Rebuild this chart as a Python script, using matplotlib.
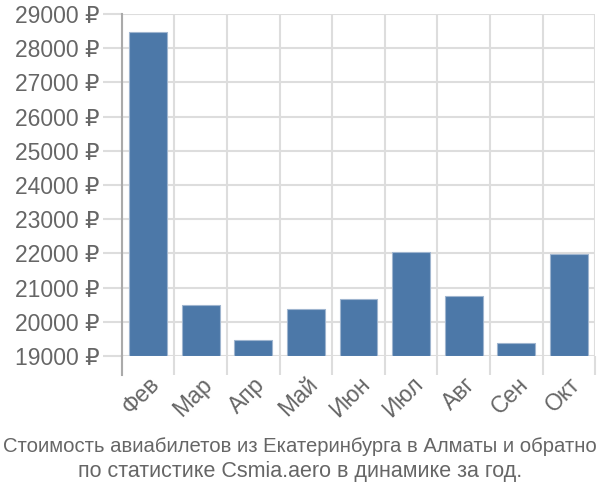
import matplotlib
matplotlib.use("Agg")
import matplotlib.pyplot as plt
import numpy as np

months = ["Фев", "Мар", "Апр", "Май", "Июн", "Июл", "Авг", "Сен", "Окт"]
prices = [28480, 20480, 19460, 20380, 20660, 22050, 20740, 19370, 21980]
yticks = [19000, 20000, 21000, 22000, 23000, 24000, 25000, 26000, 27000, 28000, 29000]
title1 = "Стоимость авиабилетов из Екатеринбурга в Алматы и обратно"
title2 = "по статистике Csmia.aero в динамике за год."

plt.rcParams['font.family'] = ['Liberation Sans', 'DejaVu Sans']

fig = plt.figure(figsize=(6, 5), dpi=100)
ax = fig.add_axes([0.203, 0.288, 0.789, 0.684])

x = np.arange(len(months))
ax.bar(x, [p - 19000 for p in prices], bottom=19000, width=0.72,
       color="#4c78a8", edgecolor="#9fb5cf", linewidth=0.8, zorder=3)

ax.set_xlim(-0.5, len(months) - 0.5)
ax.set_ylim(19000, 29000)
ax.set_yticks(yticks)
ax.set_yticklabels([f"{v} ₽" for v in yticks], fontsize=16.5, color="#666666")
ax.set_xticks(x)
ax.set_xticklabels(months, rotation=45, ha="right", rotation_mode="anchor",
                   fontsize=16.5, color="#666666")
ax.set_xticks(np.arange(-0.5, len(months), 1), minor=True)
ax.tick_params(axis="x", which="major", length=0, pad=12)
ax.tick_params(axis="x", which="minor", length=14, color="#dddddd", width=1.5)
ax.tick_params(axis="y", length=14, color="#dddddd", width=1.5, pad=2)
ax.grid(True, which="minor", axis="x", color="#dddddd", linewidth=1.5, zorder=0)
ax.grid(True, which="major", axis="y", color="#dddddd", linewidth=1.5, zorder=0)

for s in ["top", "right", "bottom"]:
    ax.spines[s].set_visible(False)
ax.spines["left"].set_color("#aaaaaa")
ax.spines["left"].set_linewidth(1.5)
ax.spines["left"].set_bounds(19000, 29000)

ax.plot([-0.5, -0.5], [0, -19 / 342], transform=ax.get_xaxis_transform(),
        color="#aaaaaa", linewidth=1.5, clip_on=False)

fig.text(0.5, 0.108, title1, ha="center", va="center", fontsize=14.6,
         color="#666666")
fig.text(0.5, 0.056, title2, ha="center", va="center", fontsize=15.5,
         color="#666666")

fig.savefig("out.png", dpi=100)
